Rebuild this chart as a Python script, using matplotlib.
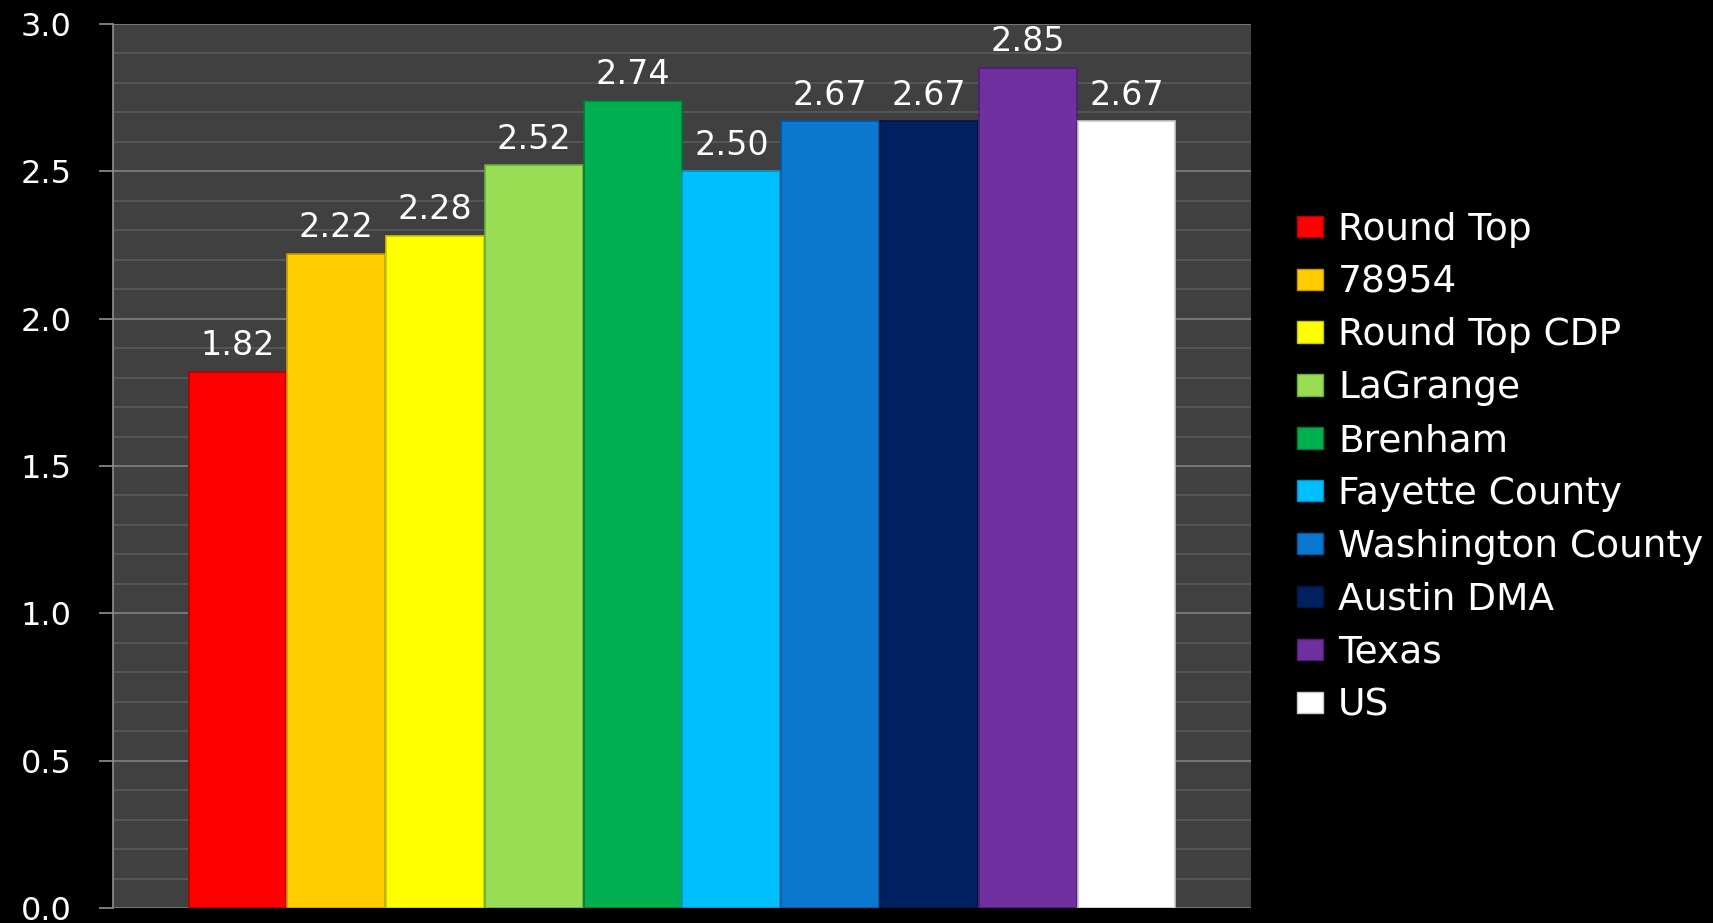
import numpy as np
import matplotlib
matplotlib.use("Agg")
import matplotlib.pyplot as plt
from matplotlib.patches import Patch

# chart data
names = ["Round Top", "78954", "Round Top CDP", "LaGrange", "Brenham",
         "Fayette County", "Washington County", "Austin DMA", "Texas", "US"]
values = [1.82, 2.22, 2.28, 2.52, 2.74, 2.50, 2.67, 2.67, 2.85, 2.67]
colors = ["#FF0000", "#FFCC00", "#FFFF00", "#99DD55", "#00B050",
          "#00BFFF", "#0A78CE", "#002060", "#7030A0", "#FFFFFF"]
edges = ["#B00000", "#C89A00", "#C8C800", "#6FAA3A", "#007A38",
         "#0090C8", "#05559A", "#001540", "#4E1F75", "#C8C8C8"]
yticks = [0.0, 0.5, 1.0, 1.5, 2.0, 2.5, 3.0]

plt.rcParams['font.family'] = ['DejaVu Sans']

fig = plt.figure(figsize=(17.13, 9.23), dpi=100, facecolor="black")
ax = fig.add_axes([113 / 1713, 1 - 908 / 923, (1251 - 113) / 1713, (908 - 24) / 923])
ax.set_facecolor("#404040")

x = np.arange(len(values))
bars = ax.bar(x, values, width=0.99, color=colors, edgecolor=edges,
              linewidth=1.2, zorder=3)

for xi, v in zip(x, values):
    ax.annotate(f"{v:.2f}", (xi, v), xytext=(0, 7), textcoords="offset points",
                ha="center", va="bottom", color="white", fontsize=24, zorder=4)

ax.set_xlim(-1.26, 10.26)
ax.set_ylim(0, 3.0)
ax.set_yticks(yticks)
ax.set_yticklabels([f"{t:.1f}" for t in yticks])
ax.set_yticks(np.arange(0, 3.01, 0.1), minor=True)
ax.grid(which="minor", axis="y", color="#5a5a5a", linewidth=1.2, zorder=0)
ax.grid(which="major", axis="y", color="#808080", linewidth=1.2, zorder=0)
ax.set_xticks([])
ax.tick_params(axis="y", which="major", colors="#909090", length=10, width=1.2,
               pad=20, labelsize=23, labelcolor="white")
ax.tick_params(axis="y", which="minor", length=0)
for s in ["top", "right", "bottom"]:
    ax.spines[s].set_visible(False)
ax.spines["left"].set_color("#909090")
ax.spines["left"].set_linewidth(1.2)

handles = [Patch(facecolor=c, edgecolor=e, label=n) for c, e, n in zip(colors, edges, names)]
leg = fig.legend(handles=handles, loc="upper left", bbox_to_anchor=(1263 / 1713, 1 - 178 / 923),
                 frameon=False, fontsize=27, labelcolor="white", handlelength=0.7,
                 handleheight=0.5, handletextpad=0.4, labelspacing=0.45)

fig.savefig("out.png", dpi=100, facecolor="black")
